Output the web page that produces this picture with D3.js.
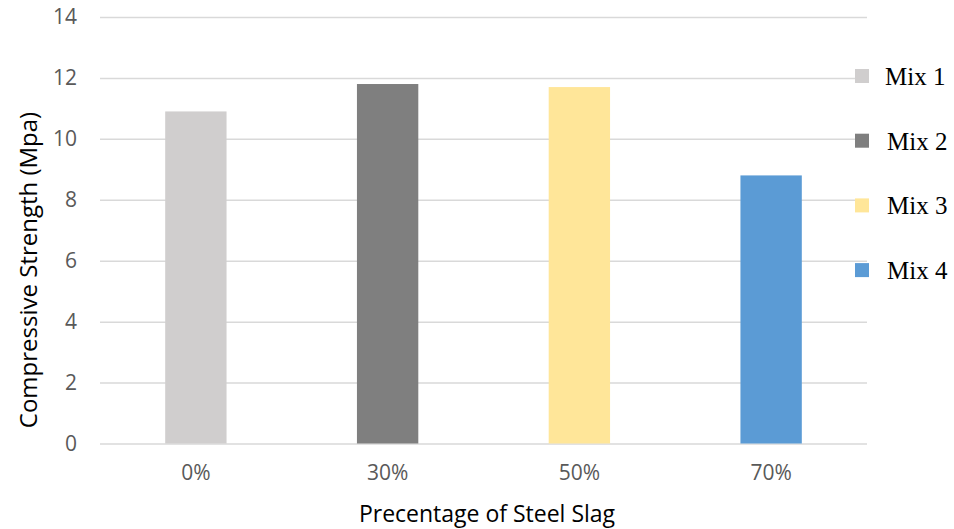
<!DOCTYPE html>
<html>
<head>
<meta charset="utf-8">
<script src="https://cdn.jsdelivr.net/npm/d3@7"></script>
<style>
  html, body { margin: 0; padding: 0; background: #fff; }
  svg { display: block; }
</style>
</head>
<body>
<svg id="chart" width="954" height="529"></svg>
<script>
// Compressive strength by steel slag replacement level
const categories = ["0%", "30%", "50%", "70%"];
const mixes = ["Mix 1", "Mix 2", "Mix 3", "Mix 4"];
const strength = [10.9, 11.8, 11.7, 8.8];
const colors = ["#D0CECE", "#7F7F7F", "#FFE699", "#5B9BD5"];
const yTicks = [0, 2, 4, 6, 8, 10, 12, 14];

const svg = d3.select("#chart");
const plot = { left: 100, right: 867, top: 17, bottom: 443.5 };

const x = d3.scaleBand()
  .domain(categories)
  .range([plot.left, plot.right])
  .paddingInner(0.68)
  .paddingOuter(0.34);

const y = d3.scaleLinear()
  .domain([0, 14])
  .range([plot.bottom, plot.top]);

// Horizontal gridlines with value labels
const yAxis = d3.axisLeft(y)
  .tickValues(yTicks)
  .tickSize(-(plot.right - plot.left))
  .tickPadding(23)
  .tickFormat(d3.format("d"));

const gy = svg.append("g")
  .attr("transform", `translate(${plot.left},0)`)
  .call(yAxis);
gy.select(".domain").remove();
gy.selectAll(".tick line")
  .attr("stroke", "#D9D9D9")
  .attr("stroke-width", 1.5);
gy.selectAll(".tick text")
  .attr("fill", "#595959")
  .style("font-family", "'Open Sans', sans-serif")
  .style("font-size", "21px");

// Bars
svg.append("g")
  .selectAll("rect")
  .data(categories)
  .join("rect")
  .attr("x", d => x(d))
  .attr("width", x.bandwidth())
  .attr("y", (d, i) => y(strength[i]))
  .attr("height", (d, i) => y(0) - y(strength[i]))
  .attr("fill", (d, i) => colors[i]);

// Category labels
const xAxis = d3.axisBottom(x).tickSize(0).tickPadding(22);
const gx = svg.append("g")
  .attr("transform", `translate(0,${plot.bottom})`)
  .call(xAxis);
gx.select(".domain").remove();
gx.selectAll(".tick text")
  .attr("fill", "#595959")
  .style("font-family", "'Open Sans', sans-serif")
  .style("font-size", "21px");

// Axis titles
svg.append("text")
  .attr("x", 487)
  .attr("y", 522)
  .attr("text-anchor", "middle")
  .attr("fill", "#000")
  .style("font-family", "'Open Sans', sans-serif")
  .style("font-size", "23px")
  .text("Precentage of Steel Slag");

svg.append("text")
  .attr("transform", "translate(37,270) rotate(-90)")
  .attr("text-anchor", "middle")
  .attr("fill", "#000")
  .style("font-family", "'Open Sans', sans-serif")
  .style("font-size", "24px")
  .text("Compressive Strength (Mpa)");

// Legend
const legend = svg.append("g")
  .selectAll("g")
  .data(mixes)
  .join("g")
  .attr("transform", (d, i) => `translate(855,${69 + i * 64.7})`);

legend.append("rect")
  .attr("width", 14)
  .attr("height", 14)
  .attr("fill", (d, i) => colors[i]);

legend.append("text")
  .attr("x", (d, i) => 30 + (i > 0 ? 2 : 0))
  .attr("y", 16)
  .attr("fill", "#000")
  .style("font-family", "'Liberation Serif', 'Times New Roman', serif")
  .style("font-size", "25px")
  .text(d => d);
</script>
</body>
</html>
